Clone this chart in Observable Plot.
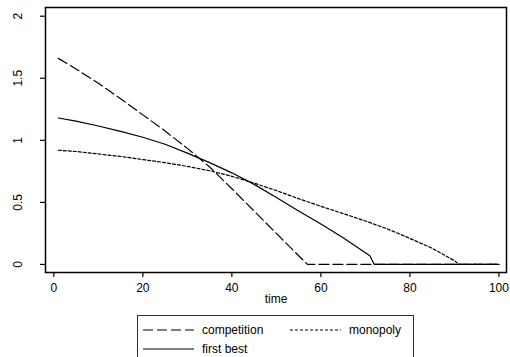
<!DOCTYPE html>
<html>
<head>
<meta charset="utf-8">
<script src="https://cdn.jsdelivr.net/npm/d3@7"></script>
<script src="https://cdn.jsdelivr.net/npm/@observablehq/plot@0.6"></script>
<style>
  html, body { margin: 0; padding: 0; background: #fff; }
  #chart svg { display: block; }
  #legend { display: block; }
</style>
</head>
<body>
<div id="chart"></div>
<svg id="legend" width="510" height="47"></svg>
<script>
// ---- data ----
const competitionT = [1, 5, 10, 15, 20, 25, 30, 35, 40, 45, 50, 55, 57, 60, 70, 80, 90, 100];
const competitionY = [1.66, 1.575, 1.46, 1.335, 1.205, 1.075, 0.935, 0.785, 0.61, 0.43, 0.25, 0.07, 0, 0, 0, 0, 0, 0];

const firstBestT = [1, 5, 10, 15, 20, 25, 30, 35, 40, 45, 50, 55, 60, 65, 70, 71, 72, 80, 90, 100];
const firstBestY = [1.18, 1.155, 1.115, 1.072, 1.025, 0.968, 0.897, 0.82, 0.738, 0.645, 0.54, 0.43, 0.325, 0.215, 0.095, 0.07, 0, 0, 0, 0];

const monopolyT = [1, 5, 10, 15, 20, 25, 30, 35, 40, 45, 50, 55, 60, 65, 70, 75, 80, 85, 90, 91, 100];
const monopolyY = [0.92, 0.91, 0.89, 0.87, 0.845, 0.82, 0.79, 0.755, 0.71, 0.655, 0.595, 0.53, 0.468, 0.41, 0.35, 0.285, 0.21, 0.13, 0.03, 0, 0];

const xTicks = [0, 20, 40, 60, 80, 100];
const yTicks = [0, 0.5, 1, 1.5, 2];
const seriesNames = ["competition", "monopoly", "first best"];
const xLabel = "time";

// ---- build tables ----
const toRows = (T, Y) => T.map((t, i) => ({t, y: Y[i]}));
const competition = toRows(competitionT, competitionY);
const firstBest = toRows(firstBestT, firstBestY);
const monopoly = toRows(monopolyT, monopolyY);

const dash = {
  "competition": "10,4",
  "monopoly": "3,2",
  "first best": null
};

const font = "'Liberation Sans', Arial, Helvetica, sans-serif";

const plot = Plot.plot({
  width: 510,
  height: 310,
  marginLeft: 45,
  marginRight: 4,
  marginTop: 7,
  marginBottom: 38,
  style: { fontFamily: font, fontSize: "12px", color: "#000", background: "#fff" },
  x: { domain: [-1.87, 101.7] },
  y: { domain: [-0.065, 2.07] },
  marks: [
    Plot.axisX({ ticks: xTicks, tickFormat: d => String(d), tickSize: 5, tickPadding: 6, label: null, fontSize: 12, strokeWidth: 1.2 }),
    Plot.axisY({ ticks: yTicks, tickFormat: d => String(d), tickSize: 5, tickPadding: 19, tickRotate: -90, label: null, fontSize: 12, strokeWidth: 1.2 }),
    Plot.text([xLabel], { frameAnchor: "bottom", dy: 30, text: d => d, fontSize: 12 }),
    Plot.line(competition, { x: "t", y: "y", stroke: "#000", strokeWidth: 1.2, strokeDasharray: dash["competition"] }),
    Plot.line(monopoly, { x: "t", y: "y", stroke: "#000", strokeWidth: 1.2, strokeDasharray: dash["monopoly"] }),
    Plot.line(firstBest, { x: "t", y: "y", stroke: "#000", strokeWidth: 1.2 }),
    Plot.frame({ stroke: "#000", strokeWidth: 1.5 })
  ]
});
document.getElementById("chart").appendChild(plot);

// ---- legend (below the plot) ----
const lg = d3.select("#legend").style("font-family", font).style("font-size", "12px");
lg.append("rect").attr("x", 137.5).attr("y", 5.5).attr("width", 276).attr("height", 60)
  .attr("fill", "#fff").attr("stroke", "#333").attr("stroke-width", 1);
const items = [
  { name: seriesNames[0], x: 143, y: 20 },
  { name: seriesNames[1], x: 290, y: 20 },
  { name: seriesNames[2], x: 143, y: 39 }
];
items.forEach(it => {
  lg.append("line").attr("x1", it.x).attr("x2", it.x + 51).attr("y1", it.y).attr("y2", it.y)
    .attr("stroke", "#000").attr("stroke-width", 1.2)
    .attr("stroke-dasharray", dash[it.name]);
  lg.append("text").attr("x", it.x + 59).attr("y", it.y).attr("dy", "0.35em").text(it.name);
});
</script>
</body>
</html>
